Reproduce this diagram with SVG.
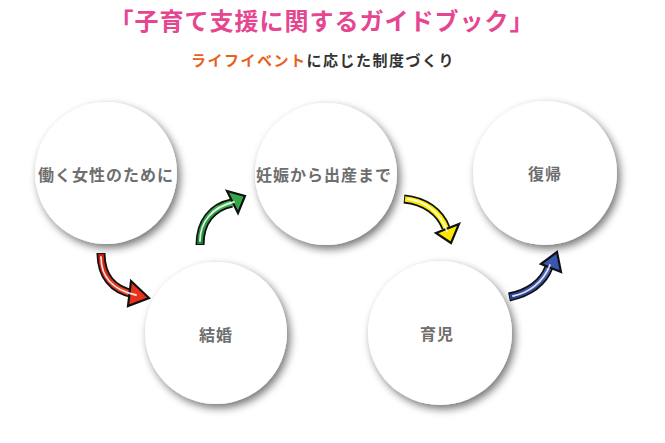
<svg xmlns="http://www.w3.org/2000/svg" width="665" height="443" viewBox="0 0 665 443">
<defs>
<filter id="sh" x="-30%" y="-30%" width="160%" height="160%">
<feGaussianBlur in="SourceAlpha" stdDeviation="4"/>
<feOffset dx="3" dy="4" result="b"/>
<feComponentTransfer><feFuncA type="linear" slope="0.55"/></feComponentTransfer>
<feMerge><feMergeNode/><feMergeNode in="SourceGraphic"/></feMerge>
</filter>
<linearGradient id="gr" x1="0" y1="0" x2="1" y2="1"><stop offset="0" stop-color="#c81e10"/><stop offset="1" stop-color="#f04a2a"/></linearGradient>
<linearGradient id="gg" x1="0" y1="1" x2="1" y2="0"><stop offset="0" stop-color="#1e8a38"/><stop offset="1" stop-color="#3cb54a"/></linearGradient>
<linearGradient id="gy" x1="0" y1="0" x2="1" y2="1"><stop offset="0" stop-color="#ffe600"/><stop offset="1" stop-color="#fff200"/></linearGradient>
<linearGradient id="gb" x1="0" y1="1" x2="1" y2="0"><stop offset="0" stop-color="#2a3f8f"/><stop offset="1" stop-color="#4a68c0"/></linearGradient>
</defs>
<style>
.c{fill:#fff;filter:url(#sh)}
.t{font-family:"Noto Sans CJK JP","Noto Sans CJK SC",sans-serif;font-weight:bold;font-size:16px;fill:#6e6e6e;text-anchor:middle;letter-spacing:1px}
.o{fill:none;stroke:#111;stroke-width:9;stroke-linecap:butt}
.hl{fill:none;stroke:#fff;stroke-width:1.8;stroke-opacity:0.85;stroke-linecap:round}
.hd{stroke:#111;stroke-width:2.2;stroke-linejoin:miter}
.title{font-family:"Noto Sans CJK JP","Noto Sans CJK SC",sans-serif;font-weight:bold;font-size:24px;fill:#e5468f;text-anchor:middle;letter-spacing:1px}
.sub{font-family:"Noto Sans CJK JP","Noto Sans CJK SC",sans-serif;font-weight:bold;font-size:15px;fill:#333;text-anchor:middle;letter-spacing:1.5px}
</style>
<rect width="665" height="443" fill="#fff"/>
<text class="title" x="322" y="30">「子育て支援に関するガイドブック」</text>
<text class="sub" x="323" y="66"><tspan fill="#e8601c">ライフイベント</tspan>に応じた制度づくり</text>

<g id="n1"><circle class="c" cx="106" cy="173" r="71"/><text class="t" x="106" y="181">働く女性のために</text></g>
<g id="n2"><circle class="c" cx="216" cy="333" r="71"/><text class="t" x="216" y="341">結婚</text></g>
<g id="n3"><circle class="c" cx="326" cy="174" r="71"/><text class="t" x="324" y="181">妊娠から出産まで</text></g>
<g id="n4"><circle class="c" cx="440" cy="333" r="72"/><text class="t" x="437" y="340">育児</text></g>
<g id="n5"><circle class="c" cx="545" cy="173" r="72"/><text class="t" x="545" y="180">復帰</text></g>

<g id="connectors">
<g id="a1">
<path class="o" d="M101,253 C101,275 112,290 134,294"/>
<path d="M101,254 C101,275 112,290 134,294" fill="none" stroke="url(#gr)" stroke-width="5.5"/>
<polygon class="hd" points="131,281 149,298 128,306" fill="#e8321c"/>
<path class="hl" d="M101,257 C101,276 112,290 136,295"/>
</g>
<g id="a2">
<path class="o" d="M200,245 C200,222 212,207 232,203"/>
<path d="M200,244 C200,222 212,207 232,203" fill="none" stroke="url(#gg)" stroke-width="5.5"/>
<polygon class="hd" points="227,191 245,196 238,213" fill="#34a847"/>
<path class="hl" d="M200,241 C200,222 212,207 234,202"/>
</g>
<g id="a3">
<path class="o" d="M404,199 C425,201 440,212 446,228"/>
<path d="M405,199 C425,201 440,212 446,228" fill="none" stroke="url(#gy)" stroke-width="5.5"/>
<polygon class="hd" points="436,233 459,224 451,243" fill="#ffe800"/>
<path class="hl" d="M408,199 C425,201 440,212 447,231"/>
</g>
<g id="a4">
<path class="o" d="M509,297 C528,293 543,283 549,267"/>
<path d="M510,297 C528,293 543,283 549,267" fill="none" stroke="url(#gb)" stroke-width="5.5"/>
<polygon class="hd" points="541,264 557,252 561,272" fill="#3a56b0"/>
<path class="hl" d="M513,296 C528,293 543,283 550,265"/>
</g>
</g>
</svg>
